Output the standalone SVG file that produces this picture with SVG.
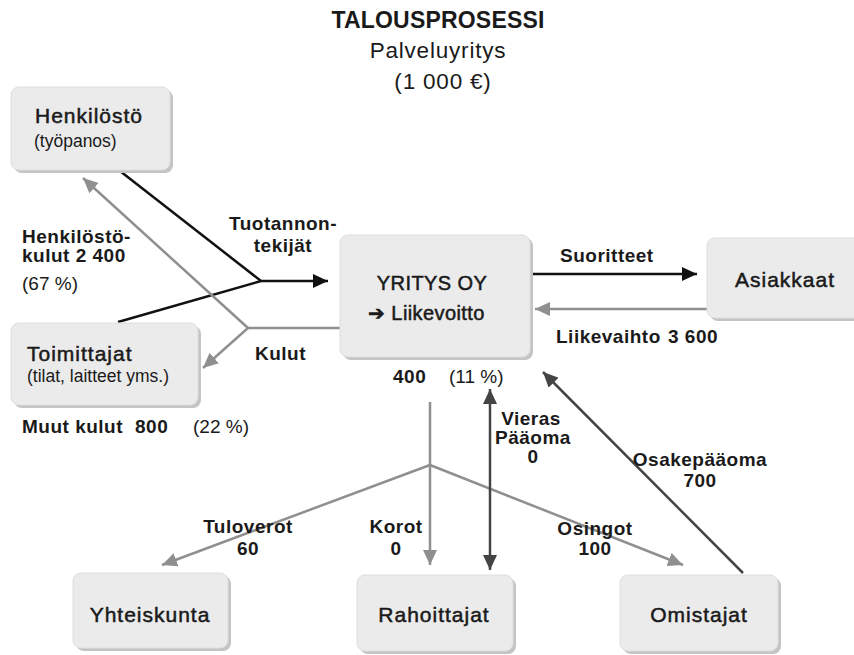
<svg xmlns="http://www.w3.org/2000/svg" width="854" height="655" viewBox="0 0 854 655">
<style>
text{font-family:"Liberation Sans",Arial,sans-serif;fill:#1a1a1a}
.t{font-size:22.5px;letter-spacing:0.8px}
.tb{font-size:23px;font-weight:bold;letter-spacing:0.2px}
.n{font-size:21px;stroke:#1a1a1a;stroke-width:0.5;letter-spacing:1px}
.y{font-size:20px;stroke:#1a1a1a;stroke-width:0.5;letter-spacing:0.4px}
.s{font-size:17.5px}
.l{font-size:19px;font-weight:bold;letter-spacing:0.5px}
.r{font-size:19px}
.m{text-anchor:middle}
.box{fill:#ebebeb;stroke:#dedede;stroke-width:1}
.sh{fill:#c4c4c4}
.k{stroke:#111;stroke-width:2.5;fill:none}
.g{stroke:#8f8f8f;stroke-width:2.5;fill:none}
.d{stroke:#444;stroke-width:2.5;fill:none}
</style>
<defs>
<marker id="ak" markerUnits="userSpaceOnUse" markerWidth="16" markerHeight="14" refX="15" refY="7" orient="auto"><path d="M0,0 L15,7 L0,14 z" fill="#111"/></marker>
<marker id="ag" markerUnits="userSpaceOnUse" markerWidth="16" markerHeight="14" refX="15" refY="7" orient="auto"><path d="M0,0 L15,7 L0,14 z" fill="#8f8f8f"/></marker>
<marker id="ad" markerUnits="userSpaceOnUse" markerWidth="16" markerHeight="14" refX="15" refY="7" orient="auto-start-reverse"><path d="M0,0 L15,7 L0,14 z" fill="#444"/></marker>
</defs>

<g id="title">
<text class="tb m" x="438" y="28">TALOUSPROSESSI</text>
<text class="t m" x="438" y="58">Palveluyritys</text>
<text class="t m" x="443" y="89">(1 000 €)</text>
</g>

<g id="connectors">
<line class="k" x1="120" y1="171" x2="261" y2="281"/>
<line class="k" x1="118" y1="322" x2="261" y2="281"/>
<line class="k" x1="261" y1="281" x2="328" y2="281" marker-end="url(#ak)"/>
<line class="g" x1="340" y1="328" x2="248" y2="328"/>
<line class="g" x1="248" y1="328" x2="83" y2="178" marker-end="url(#ag)"/>
<line class="g" x1="248" y1="328" x2="203" y2="368" marker-end="url(#ag)"/>
<line class="k" x1="533" y1="274" x2="697" y2="274" marker-end="url(#ak)"/>
<line class="g" x1="707" y1="309" x2="535" y2="309" marker-end="url(#ag)"/>
<line class="g" x1="430" y1="402" x2="430" y2="565" marker-end="url(#ag)"/>
<line class="g" x1="430" y1="465" x2="162" y2="565" marker-end="url(#ag)"/>
<line class="g" x1="430" y1="465" x2="683" y2="565" marker-end="url(#ag)"/>
<line class="d" x1="490" y1="389" x2="490" y2="570" marker-start="url(#ad)" marker-end="url(#ad)"/>
<line class="d" x1="743" y1="573" x2="543" y2="372" marker-end="url(#ad)"/>
</g>

<g id="labels">
<text class="l" x="22" y="243">Henkilöstö-</text>
<text class="l" x="22" y="262">kulut 2 400</text>
<text class="r" x="22" y="290">(67 %)</text>
<text class="l m" x="283" y="230">Tuotannon-</text>
<text class="l m" x="283" y="252">tekijät</text>
<text class="l" x="255" y="360">Kulut</text>
<text class="l" x="22" y="433">Muut kulut</text>
<text class="l" x="135" y="433">800</text>
<text class="r" x="193" y="433">(22 %)</text>
<text class="l" x="393" y="383">400</text>
<text class="r" x="449" y="383">(11 %)</text>
<text class="l" x="560" y="262">Suoritteet</text>
<text class="l" x="556" y="343">Liikevaihto</text>
<text class="l" x="668" y="343">3 600</text>
<text class="l m" x="531" y="425">Vieras</text>
<text class="l m" x="533" y="444">Pääoma</text>
<text class="l m" x="533" y="463">0</text>
<text class="l m" x="248" y="533">Tuloverot</text>
<text class="l m" x="248" y="555">60</text>
<text class="l m" x="396" y="533">Korot</text>
<text class="l m" x="396" y="555">0</text>
<text class="l m" x="595" y="535">Osingot</text>
<text class="l m" x="595" y="555">100</text>
<text class="l m" x="700" y="466">Osakepääoma</text>
<text class="l m" x="700" y="487">700</text>
</g>

<g id="henkilosto">
<rect class="sh" x="14" y="90" width="159" height="83" rx="8"/>
<rect class="box" x="11" y="87" width="159" height="83" rx="8"/>
<text class="n" x="35" y="123">Henkilöstö</text>
<text class="s" x="34" y="147">(työpanos)</text>
</g>

<g id="toimittajat">
<rect class="sh" x="14" y="326" width="187" height="82" rx="8"/>
<rect class="box" x="11" y="323" width="187" height="82" rx="8"/>
<text class="n" x="27" y="361">Toimittajat</text>
<text class="s" x="27" y="382">(tilat, laitteet yms.)</text>
</g>

<g id="yritys">
<rect class="sh" x="343" y="238" width="190" height="122" rx="8"/>
<rect class="box" x="340" y="235" width="190" height="122" rx="8"/>
<text class="y m" x="432" y="290">YRITYS OY</text>
<text class="y" x="368" y="320">➔ Liikevoitto</text>
</g>

<g id="asiakkaat">
<rect class="sh" x="710" y="241" width="160" height="80" rx="8"/>
<rect class="box" x="707" y="238" width="160" height="80" rx="8"/>
<text class="n" x="735" y="287">Asiakkaat</text>
</g>

<g id="yhteiskunta">
<rect class="sh" x="76" y="576" width="155" height="75" rx="8"/>
<rect class="box" x="73" y="573" width="155" height="75" rx="8"/>
<text class="n m" x="150" y="622">Yhteiskunta</text>
</g>

<g id="rahoittajat">
<rect class="sh" x="360" y="578" width="156" height="76" rx="8"/>
<rect class="box" x="357" y="575" width="156" height="76" rx="8"/>
<text class="n m" x="434" y="622">Rahoittajat</text>
</g>

<g id="omistajat">
<rect class="sh" x="623" y="578" width="158" height="76" rx="8"/>
<rect class="box" x="620" y="575" width="158" height="76" rx="8"/>
<text class="n m" x="699" y="622">Omistajat</text>
</g>
</svg>
